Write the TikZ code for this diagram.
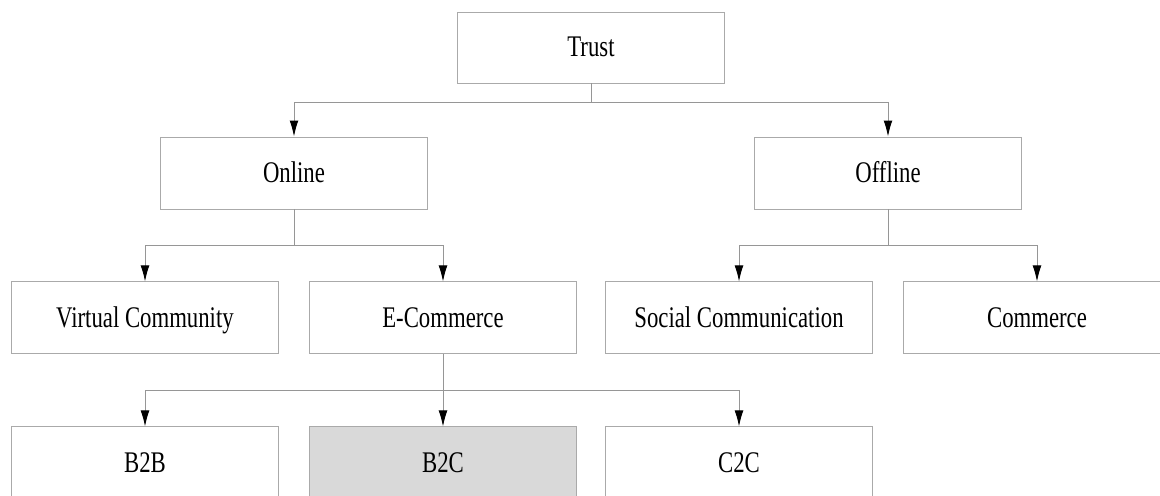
\documentclass[tikz,border=0pt]{standalone}
\usepackage{fontspec}
\setmainfont{Liberation Serif}[FakeStretch=0.76]
\usepackage{tikz}
\usetikzlibrary{arrows.meta}
\usetikzlibrary {positioning}
\definecolor{boxgray}{RGB}{170,170,170}
\definecolor{linegray}{RGB}{150,150,150}
\definecolor{b2cfill}{RGB}{217,217,217}
\tikzset{tree node/.style={rectangle,fill=white,draw=boxgray,line width=0.7pt,minimum width=6.675cm,minimum height=1.8cm,inner sep=0pt,text height=13.5pt,text depth=0pt,font=\fontsize{21.3}{24}\selectfont}}
\tikzset{tree arrow/.style={draw=linegray,line width=0.7pt,-{Latex[black,length=0.4cm,width=0.22cm]}}}

\begin{document}
\begin{tikzpicture}
	\useasboundingbox (0,0) rectangle (29,-12.375);
	\clip (0,0) rectangle (29,-12.375);

	\node[tree node,minimum height=1.775cm] (trust) at (14.775,-1.1875) {Trust};
	\node[tree node] (online) at (7.35,-4.325) {Online};
	\node[tree node] (offline) at (22.2,-4.325) {Offline};

	\node[tree node] (virtual) [below left = 1.8cm and 0.375cm of online.south] {Virtual Community};
	\node[tree node] (ecommerce) [below right = 1.8cm and 0.375cm of online.south] {E-Commerce};
	\node[tree node] (social) [below left = 1.8cm and 0.375cm of offline.south] {Social Communication};
	\node[tree node] (commerce) [below right = 1.8cm and 0.375cm of offline.south] {Commerce};

	\node[tree node] (b2b) [below = 1.8cm of virtual] {B2B};
	\node[tree node,fill=b2cfill] (b2c) [below = 1.8cm of ecommerce] {B2C};
	\node[tree node] (c2c) [below = 1.8cm of social] {C2C};

	\path[tree arrow]
	(trust.south) -- ++(0,-0.475) -| (online.north);
	\path[tree arrow]
	(trust.south) -- ++(0,-0.475) -| (offline.north);

	\path[tree arrow]
	(online.south) -- ++(0,-0.9) -| (virtual.north);
	\path[tree arrow]
	(online.south) -- ++(0,-0.9) -| (ecommerce.north);
	\path[tree arrow]
	(offline.south) -- ++(0,-0.9) -| (social.north);
	\path[tree arrow]
	(offline.south) -- ++(0,-0.9) -| (commerce.north);

	\path[tree arrow]
	(ecommerce.south) -- ++(0,-0.9) -| (b2b.north);
	\path[tree arrow]
	(ecommerce.south) -- (b2c.north);
	\path[tree arrow]
	(ecommerce.south) -- ++(0,-0.9) -| (c2c.north);

\end{tikzpicture}
\end{document}
